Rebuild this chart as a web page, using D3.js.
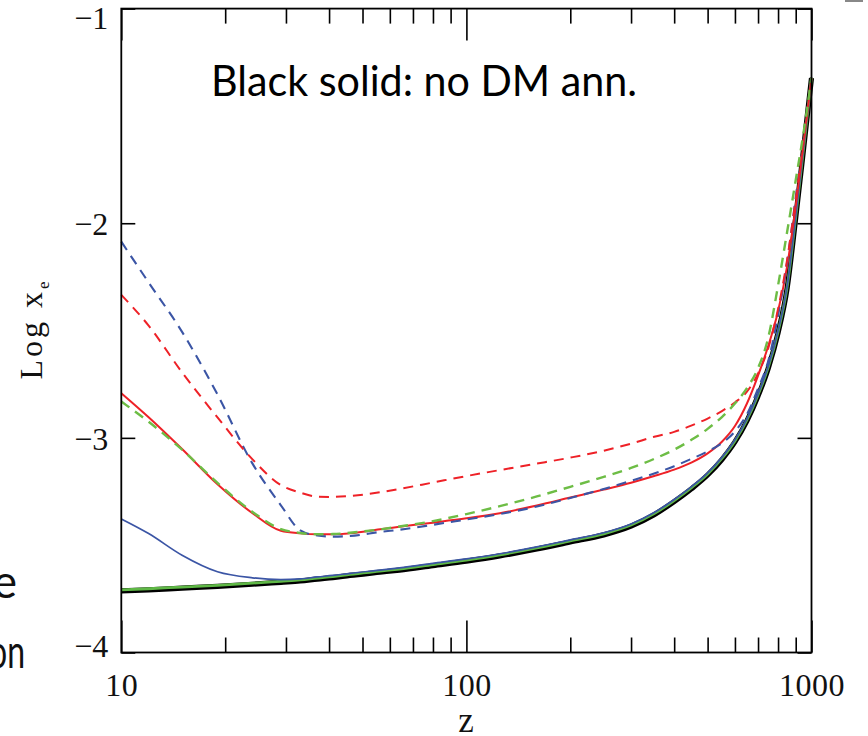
<!DOCTYPE html>
<html>
<head>
<meta charset="utf-8">
<script src="https://cdn.jsdelivr.net/npm/d3@7"></script>
<style>
  html, body { margin: 0; padding: 0; background: #fff; }
  svg { display: block; }
</style>
</head>
<body>
<svg id="chart" width="868" height="736"></svg>
<script>
// Redshift grid shared by every curve
const zGrid = [10, 12, 15, 19, 24, 29, 33, 37, 41, 46, 57, 64, 80, 100, 125, 160, 200, 250,
               300, 350, 400, 450, 500, 550, 600, 650, 700, 750, 800, 850, 900, 950, 1000];

// log10 of the free-electron fraction x_e along zGrid
const noAnnihilation = [-3.713, -3.708, -3.700, -3.692, -3.682, -3.673, -3.667, -3.658, -3.651, -3.641,
  -3.625, -3.616, -3.595, -3.574, -3.550, -3.518, -3.485, -3.452, -3.411, -3.358, -3.297, -3.236,
  -3.173, -3.101, -3.019, -2.921, -2.805, -2.674, -2.511, -2.302, -1.975, -1.644, -1.323];

const greenSolid = [-3.708, -3.703, -3.695, -3.687, -3.677, -3.668, -3.662, -3.653, -3.646, -3.636,
  -3.620, -3.611, -3.590, -3.569, -3.545, -3.513, -3.480, -3.447, -3.406, -3.353, -3.292, -3.231,
  -3.168, -3.096, -3.014, -2.916, -2.800, -2.669, -2.506, -2.297, -1.971, -1.641, -1.321];

const blueSolid = [-3.378, -3.446, -3.547, -3.624, -3.652, -3.660, -3.657, -3.648, -3.641, -3.631,
  -3.615, -3.606, -3.585, -3.564, -3.540, -3.508, -3.475, -3.442, -3.401, -3.348, -3.287, -3.226,
  -3.163, -3.091, -3.009, -2.911, -2.795, -2.664, -2.501, -2.293, -1.968, -1.639, -1.320];

const redSolid = [-2.792, -2.904, -3.052, -3.216, -3.351, -3.433, -3.445, -3.449, -3.449, -3.445,
  -3.425, -3.414, -3.395, -3.375, -3.351, -3.315, -3.278, -3.241, -3.209, -3.178, -3.148, -3.114,
  -3.072, -3.018, -2.945, -2.840, -2.710, -2.570, -2.410, -2.200, -1.920, -1.620, -1.323];

const greenDashed = [-2.831, -2.925, -3.055, -3.210, -3.345, -3.425, -3.443, -3.449, -3.448, -3.442,
  -3.425, -3.413, -3.388, -3.355, -3.318, -3.273, -3.228, -3.182, -3.140, -3.098, -3.055, -3.008,
  -2.958, -2.903, -2.840, -2.768, -2.675, -2.530, -2.290, -2.040, -1.800, -1.570, -1.323];

const blueDashed = [-2.086, -2.276, -2.506, -2.798, -3.120, -3.314, -3.431, -3.455, -3.460, -3.457,
  -3.437, -3.428, -3.405, -3.380, -3.355, -3.320, -3.280, -3.238, -3.200, -3.166, -3.132, -3.097,
  -3.063, -3.025, -2.970, -2.890, -2.770, -2.640, -2.430, -2.180, -1.880, -1.600, -1.323];

const redDashed = [-2.334, -2.477, -2.695, -2.905, -3.100, -3.220, -3.255, -3.274, -3.275, -3.271,
  -3.252, -3.238, -3.208, -3.178, -3.150, -3.120, -3.092, -3.060, -3.027, -2.995, -2.972, -2.942,
  -2.910, -2.875, -2.835, -2.785, -2.700, -2.580, -2.400, -2.170, -1.890, -1.600, -1.323];

// Axis ticks and labels
const xMajorTicks = [10, 100, 1000];
const xMinorTicks = [20, 30, 40, 50, 60, 70, 80, 90, 200, 300, 400, 500, 600, 700, 800, 900];
const yTicks = [-4, -3, -2, -1];
const xTickLabels = ["10", "100", "1000"];
const yTickLabels = ["\u22124", "\u22123", "\u22122", "\u22121"];

const svg = d3.select("#chart");
const plotLeft = 121.3, plotRight = 811.5, plotTop = 8.6, plotBottom = 652.5;

const x = d3.scaleLog().domain([10, 1000]).range([plotLeft, plotRight]);
const y = d3.scaleLinear().domain([-4, -1]).range([plotBottom, plotTop]);

const serif = "'Liberation Serif', 'DejaVu Serif', serif";

// Curves, thick no-annihilation line first so the others sit on top
const series = [
  { v: noAnnihilation, color: "#000000", width: 5.2, dash: null },
  { v: greenSolid,     color: "#5fb846", width: 2.8, dash: null },
  { v: blueSolid,      color: "#3b55a5", width: 1.7, dash: null },
  { v: redSolid,       color: "#ee2127", width: 2.0, dash: null },
  { v: blueDashed,     color: "#3b55a5", width: 2.1, dash: "10,7" },
  { v: redDashed,      color: "#ee2127", width: 2.0, dash: "10,7" },
  { v: greenDashed,    color: "#6dbd45", width: 2.4, dash: "10,7" }
];

const line = d3.line()
  .x((d, i) => x(zGrid[i]))
  .y(d => y(d))
  .curve(d3.curveMonotoneX);

svg.append("g").selectAll("path")
  .data(series)
  .join("path")
  .attr("d", s => line(s.v))
  .attr("fill", "none")
  .attr("stroke", s => s.color)
  .attr("stroke-width", s => s.width)
  .attr("stroke-dasharray", s => s.dash)
  .attr("stroke-linejoin", "round");

// Frame ticks (all pointing inward)
function styleAxis(g) {
  g.select(".domain").remove();
  g.selectAll(".tick line").attr("stroke", "#000").attr("stroke-width", 1.6);
}

svg.append("g").attr("transform", `translate(0,${plotBottom})`)
  .call(d3.axisBottom(x).tickValues(xMajorTicks).tickSizeInner(-32).tickSizeOuter(0)
        .tickPadding(21).tickFormat((d, i) => xTickLabels[i]))
  .call(styleAxis)
  .call(g => g.selectAll("text").attr("font-family", serif).attr("font-size", 32)
        .attr("letter-spacing", "0.5px").attr("fill", "#111"));

svg.append("g").attr("transform", `translate(0,${plotBottom})`)
  .call(d3.axisBottom(x).tickValues(xMinorTicks).tickSizeInner(-15).tickSizeOuter(0).tickFormat(""))
  .call(styleAxis);

svg.append("g").attr("transform", `translate(0,${plotTop})`)
  .call(d3.axisTop(x).tickValues(xMajorTicks).tickSizeInner(-32).tickSizeOuter(0).tickFormat(""))
  .call(styleAxis);

svg.append("g").attr("transform", `translate(0,${plotTop})`)
  .call(d3.axisTop(x).tickValues(xMinorTicks).tickSizeInner(-15).tickSizeOuter(0).tickFormat(""))
  .call(styleAxis);

svg.append("g").attr("transform", `translate(${plotLeft},0)`)
  .call(d3.axisLeft(y).tickValues(yTicks).tickSizeInner(-14).tickSizeOuter(0)
        .tickPadding(13).tickFormat((d, i) => yTickLabels[i]))
  .call(styleAxis)
  .call(g => g.selectAll("text").attr("font-family", serif).attr("font-size", 32).attr("fill", "#111")
        // end labels are kept inside the frame height
        .attr("dy", d => d === -1 ? "0.62em" : d === -4 ? "0.12em" : "0.36em"));

svg.append("g").attr("transform", `translate(${plotRight},0)`)
  .call(d3.axisRight(y).tickValues(yTicks).tickSizeInner(-14).tickSizeOuter(0).tickFormat(""))
  .call(styleAxis);

// Frame
svg.append("rect")
  .attr("x", plotLeft).attr("y", plotTop)
  .attr("width", plotRight - plotLeft).attr("height", plotBottom - plotTop)
  .attr("fill", "none").attr("stroke", "#000").attr("stroke-width", 1.8);

// Axis titles
svg.append("text")
  .attr("x", 466).attr("y", 732)
  .attr("text-anchor", "middle")
  .attr("font-family", serif).attr("font-size", 35).attr("fill", "#111")
  .text("z");

const yTitle = svg.append("text")
  .attr("transform", "translate(42,329) rotate(-90)")
  .attr("text-anchor", "middle")
  .attr("font-family", serif).attr("font-size", 32).attr("fill", "#111")
  .attr("letter-spacing", "3px");
yTitle.append("tspan").text("Log x");
yTitle.append("tspan").attr("font-size", 17).attr("dy", 7).text("e");

// Annotation
svg.append("text")
  .attr("x", 211).attr("y", 96)
  .attr("font-family", "Lato, 'Open Sans', sans-serif").attr("font-size", 43)
  .attr("textLength", 426).attr("lengthAdjust", "spacingAndGlyphs")
  .attr("fill", "#000")
  .text("Black solid: no DM ann.");

// Neighbouring slide text cut by the left edge
const sideFont = "Lato, 'Open Sans', sans-serif";
svg.append("text").attr("x", 17).attr("y", 598).attr("text-anchor", "end")
  .attr("font-family", sideFont).attr("font-size", 46).attr("fill", "#111").text("e");
svg.append("text").attr("x", 25).attr("y", 668).attr("text-anchor", "end")
  .attr("font-family", sideFont).attr("font-size", 46).attr("fill", "#111")
  .attr("textLength", 36).attr("lengthAdjust", "spacingAndGlyphs").text("on");
svg.append("rect").attr("x", 845).attr("y", 0).attr("width", 18).attr("height", 2).attr("fill", "#888");
</script>
</body>
</html>
